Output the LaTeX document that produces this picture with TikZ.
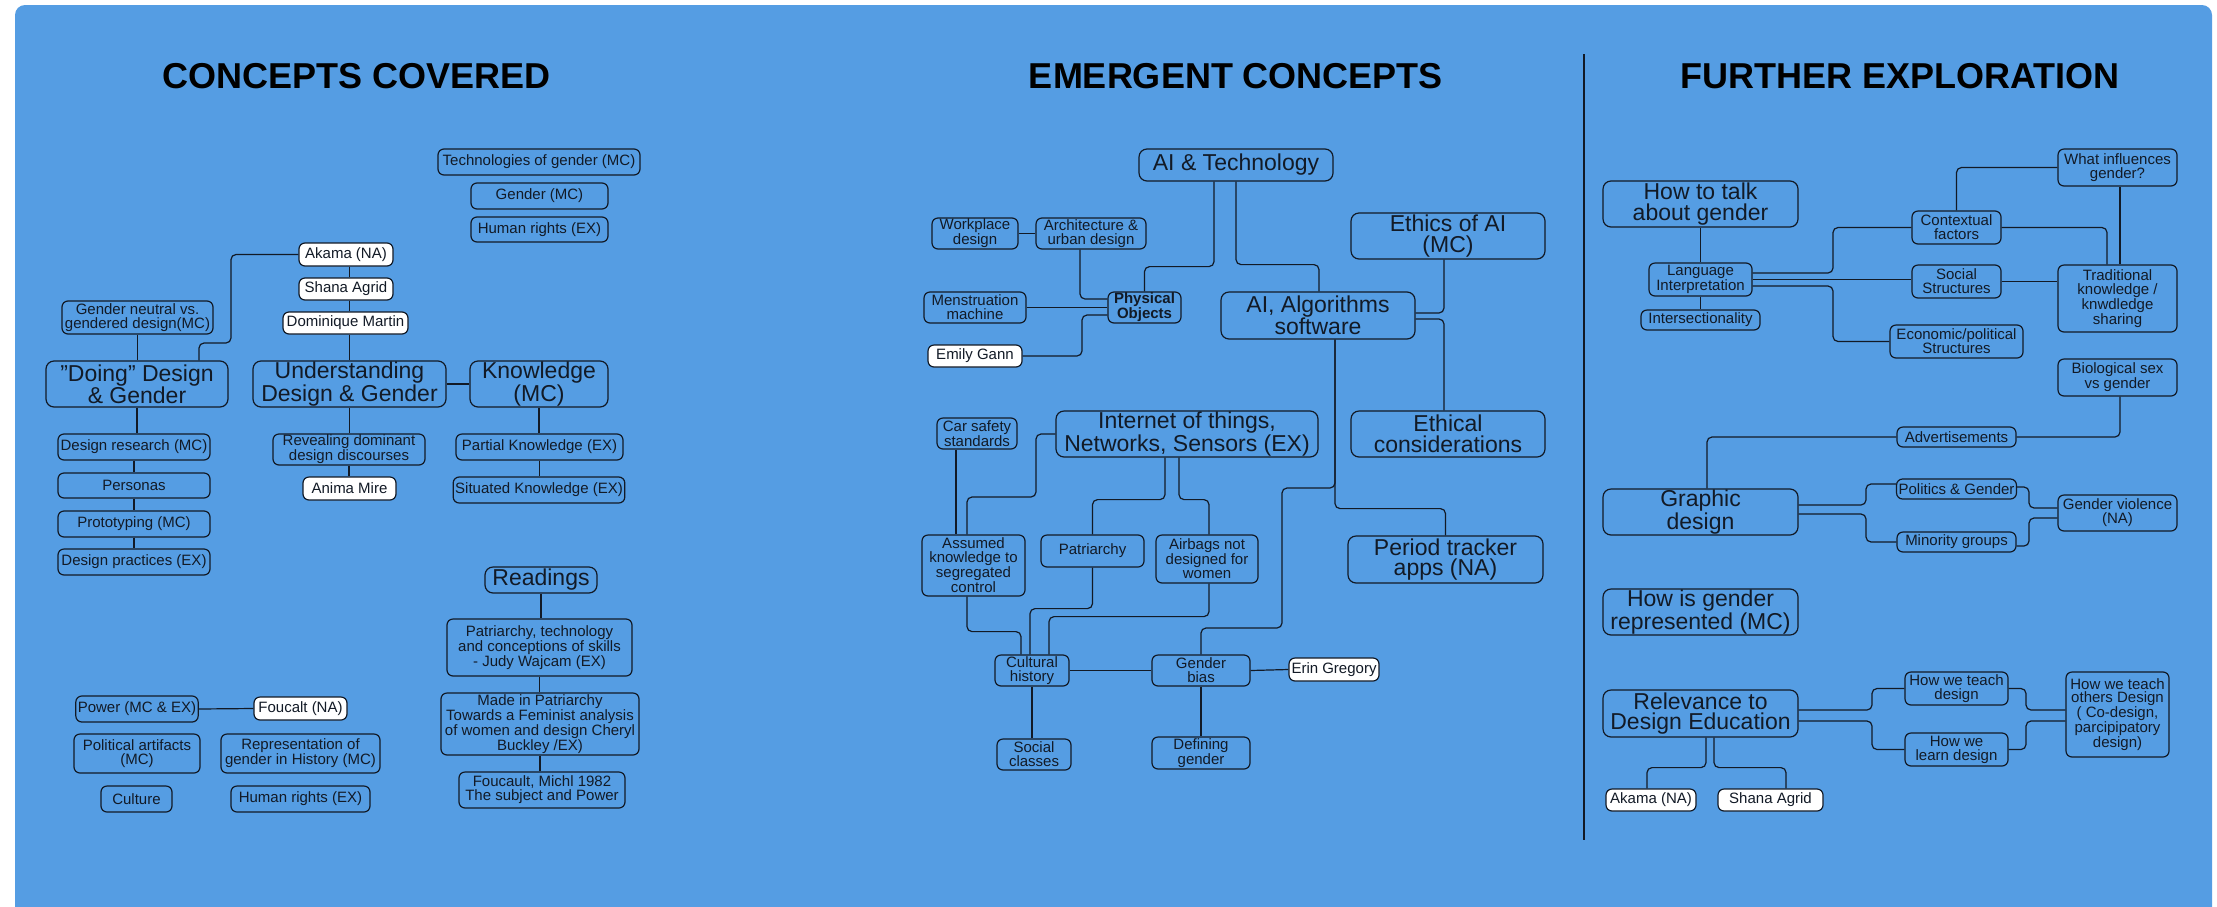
\documentclass[tikz,border=0pt]{standalone}
\usepackage{fontspec}
\setmainfont{Liberation Sans}[Ligatures=ResetAll]
\usepackage{tikz}
\definecolor{panel}{RGB}{85,157,227}
\definecolor{ink}{RGB}{18,26,38}

\begin{document}
\begin{tikzpicture}[x=1pt,y=-1pt,
    box/.style={draw=ink, fill=panel, text=ink, line width=1.2pt, rounded corners=6pt,
        align=center, inner xsep=2pt, inner ysep=0pt, font=\fontsize{15}{13.8}\selectfont},
    bigbox/.style={box, rounded corners=8pt, font=\fontsize{23}{20.5}\selectfont},
    person/.style={box, fill=white},
    sz/.style 2 args={minimum width=#1pt, minimum height=#2pt},
    heading/.style={font=\fontsize{36}{40}\selectfont\bfseries, text=black, anchor=base},
    link/.style={draw=ink, line width=1.2pt, rounded corners=5pt}]
    \useasboundingbox (0,0) rectangle (2217,906);
    \fill[white] (0,0) rectangle (2217,906);
    \fill[panel, rounded corners=10pt] (15,5) rectangle (2212,930);

    % draw headings
    \node[heading] (ttlcovered) at (357,88) {CONCEPTS COVERED};
    \node[heading] (ttlemergent) at (1236,88) {EMERGENT CONCEPTS};
    \node[heading] (ttlfurther) at (1900,88) {FURTHER EXPLORATION};
    \draw[ink, line width=1.2pt] (1584,54) -- (1584,840);

    % concepts covered
    \node[box, sz={202}{26}] (techgender) at (539,162) {Technologies of gender (MC)};
    \node[box, sz={137}{26}] (gendermc) at (539.5,196) {Gender (MC)};
    \node[box, sz={137}{25}] (rightsa) at (539.5,229.5) {Human rights (EX)};
    \node[person, sz={94}{23}] (akamaa) at (346,254.5) {Akama (NA)};
    \node[person, sz={94}{22}] (shanaa) at (346,289) {Shana Agrid};
    \node[person, sz={125}{22}] (dominique) at (345.5,323) {Dominique Martin};
    \node[box, sz={151}{33}] (neutral) at (137.5,317.5) {Gender neutral vs.\\gendered design(MC)};
    \node[bigbox, sz={182}{46}] (doing) at (137,384) {"Doing" Design\\\& Gender};
    \node[bigbox, sz={193}{46}] (understanding) at (349.5,384) {Understanding\\Design \& Gender};
    \node[bigbox, sz={138}{46}] (knowledge) at (539,384) {Knowledge\\(MC)};
    \node[box, sz={152}{26}] (research) at (134,447) {Design research (MC)};
    \node[box, sz={152}{31}] (revealing) at (349,449.5) {Revealing dominant\\design discourses};
    \node[box, sz={167}{26}] (partial) at (539.5,447) {Partial Knowledge (EX)};
    \node[box, sz={152}{25}] (personas) at (134,485.5) {Personas};
    \node[person, sz={93}{23}] (anima) at (349.5,488.5) {Anima Mire};
    \node[box, sz={170}{26}] (situated) at (539,490) {Situated Knowledge (EX)};
    \node[box, sz={152}{26}] (prototyping) at (134,524) {Prototyping (MC)};
    \node[box, sz={152}{26}] (practices) at (134,562) {Design practices (EX)};
    \node[bigbox, sz={112}{26}] (readings) at (541,580) {Readings};
    \node[box, sz={185}{57}] (wajcman) at (539.5,647.5) {Patriarchy, technology\\and conceptions of skills\\- Judy Wajcam (EX)};
    \node[box, sz={198}{62}] (buckley) at (540,724) {Made in Patriarchy\\Towards a Feminist analysis\\of women and design Cheryl\\Buckley /EX)};
    \node[box, sz={166}{36}] (subject) at (542,790) {Foucault, Michl 1982\\The subject and Power};
    \node[box, sz={122}{26}] (power) at (137,709) {Power (MC \& EX)};
    \node[person, sz={93}{23}] (foucalt) at (300.5,708.5) {Foucalt (NA)};
    \node[box, sz={126}{39}] (artifacts) at (137,753.5) {Political artifacts\\(MC)};
    \node[box, sz={159}{39}] (history) at (300.5,753.5) {Representation of\\gender in History (MC)};
    \node[box, sz={71}{26}] (culture) at (136.5,799) {Culture};
    \node[box, sz={139}{26}] (rightsb) at (300.5,799) {Human rights (EX)};

    % emergent concepts
    \node[bigbox, sz={194}{32}] (aitech) at (1236,165) {AI \& Technology};
    \node[box, sz={86}{31}] (workplace) at (975,233.5) {Workplace\\design};
    \node[box, sz={110}{31}] (architecture) at (1091,233.5) {Architecture \&\\urban design};
    \node[bigbox, sz={194}{46}] (ethicsai) at (1448,236) {Ethics of AI\\(MC)};
    \node[box, sz={102}{31}] (menstruation) at (975,307.5) {Menstruation\\machine};
    \node[box, sz={73}{31}, font=\fontsize{15}{13.8}\selectfont\bfseries] (physical) at (1144.5,307.5) {Physical\\Objects};
    \node[bigbox, sz={194}{47}] (algorithms) at (1318,315.5) {AI, Algorithms\\software};
    \node[person, sz={94}{22}] (emily) at (975,356) {Emily Gann};
    \node[box, sz={80}{31}] (carsafety) at (977,433.5) {Car safety\\standards};
    \node[bigbox, sz={262}{46}] (iot) at (1187,434) {Internet of things,\\Networks, Sensors (EX)};
    \node[bigbox, sz={194}{46}] (ethical) at (1448,434) {Ethical\\considerations};
    \node[box, sz={103}{61}] (assumed) at (973.5,565.5) {Assumed\\knowledge to\\segregated\\control};
    \node[box, sz={103}{32}] (patriarchy) at (1092.5,551) {Patriarchy};
    \node[box, sz={102}{48}] (airbags) at (1207,559) {Airbags not\\designed for\\women};
    \node[bigbox, sz={195}{47}] (period) at (1445.5,559.5) {Period tracker\\apps (NA)};
    \node[box, sz={74}{31}] (cultural) at (1032,670.5) {Cultural\\history};
    \node[box, sz={98}{31}] (bias) at (1201,670.5) {Gender\\bias};
    \node[person, sz={90}{23}] (erin) at (1334,669.5) {Erin Gregory};
    \node[box, sz={74}{31}] (classes) at (1034,754.5) {Social\\classes};
    \node[box, sz={98}{32}] (defining) at (1201,753) {Defining\\gender};

    % further exploration
    \node[bigbox, sz={195}{46}] (talk) at (1700.5,204) {How to talk\\about gender};
    \node[box, sz={119}{37}] (influences) at (2117.5,167.5) {What influences\\gender?};
    \node[box, sz={89}{33}] (contextual) at (1956.5,227.5) {Contextual\\factors};
    \node[box, sz={103}{33}] (language) at (1700.5,279.5) {Language\\Interpretation};
    \node[box, sz={89}{33}] (structures) at (1956.5,281.5) {Social\\Structures};
    \node[box, sz={119}{67}] (traditional) at (2117.5,298.5) {Traditional\\knowledge /\\knwdledge\\sharing};
    \node[box, sz={119}{20}] (intersect) at (1700.5,320) {Intersectionality};
    \node[box, sz={133}{33}] (economic) at (1956.5,341.5) {Economic/political\\Structures};
    \node[box, sz={119}{37}] (biological) at (2117.5,377.5) {Biological sex\\vs gender};
    \node[box, sz={119}{20}] (adverts) at (1956.5,437) {Advertisements};
    \node[bigbox, sz={195}{46}] (graphic) at (1700.5,512) {Graphic\\design};
    \node[box, sz={119}{20}] (politics) at (1956.5,489) {Politics \& Gender};
    \node[box, sz={119}{20}] (minority) at (1956.5,542) {Minority groups};
    \node[box, sz={119}{36}] (violence) at (2117.5,513) {Gender violence\\(NA)};
    \node[bigbox, sz={195}{46}] (represented) at (1700.5,612) {How is gender\\represented (MC)};
    \node[box, sz={103}{33}] (teach) at (1956.5,688.5) {How we teach\\design};
    \node[bigbox, sz={195}{47}] (relevance) at (1700.5,713.5) {Relevance to\\Design Education};
    \node[box, sz={103}{85}] (others) at (2117.5,714.5) {How we teach\\others Design\\( Co-design,\\parcipipatory\\design)};
    \node[box, sz={103}{33}] (learn) at (1956.5,749.5) {How we\\learn design};
    \node[person, sz={90}{22}] (akamab) at (1651,800) {Akama (NA)};
    \node[person, sz={105}{22}] (shanab) at (1770.5,800) {Shana Agrid};

    % draw straight vertical links
    \foreach \a/\b in {akamaa/shanaa, shanaa/dominique, dominique/understanding}
        \draw[link] (\a.south -| understanding.north) -- (\b.north -| understanding.north);
    \foreach \a/\b in {understanding/revealing, revealing/anima, neutral/doing, doing/research,
        research/personas, personas/prototyping, prototyping/practices, knowledge/partial,
        partial/situated, readings/wajcman, wajcman/buckley, buckley/subject,
        cultural/classes, bias/defining, talk/language, language/intersect}
        \draw[link] (\a.south) -- (\a.south |- \b.north);

    % draw concepts covered links
    \draw[link] (akamaa.west) -| (231,343) -| ([xshift=62pt]doing.north);
    \draw[link] (understanding.east) -- (knowledge.west);
    \draw[link] (power.east) -- (foucalt.west);

    % draw emergent concepts links
    \draw[link] ([xshift=-22pt]aitech.south) -- ++(0,85) -| (physical.north);
    \draw[link] (aitech.south) -- ++(0,83) -| ([xshift=1pt]algorithms.north);
    \draw[link] (workplace.east) -- (architecture.west);
    \draw[link] ([xshift=-11pt]architecture.south) |- ([yshift=8.5pt]physical.west);
    \draw[link] (menstruation.east) -- (physical.west);
    \draw[link] (emily.east) -| (1082,315) -- ([yshift=-7.5pt]physical.west);
    \draw[link] ([xshift=-4pt]ethicsai.south) |- ([yshift=2.5pt]algorithms.east);
    \draw[link] ([yshift=-3.5pt]algorithms.east) -| ([xshift=-4pt]ethical.north);
    \draw[link] ([xshift=17pt]algorithms.south) |- (1282,488) |- (1201,628) -- (bias.north);
    \draw[link] ([xshift=17pt]algorithms.south) -- ++(0,169) -| (period.north);
    \draw[link] ([xshift=-21pt]carsafety.south) -- ([xshift=-21pt]carsafety.south |- assumed.north);
    \draw[link] (iot.west) -| (1036,497) -| ([xshift=-6.5pt]assumed.north);
    \draw[link] ([xshift=-22pt]iot.south) -- ++(0,42) -| (patriarchy.north);
    \draw[link] ([xshift=-8pt]iot.south) -- ++(0,42) -| ([xshift=2pt]airbags.north);
    \draw[link] ([xshift=-6.5pt]assumed.south) -- ++(0,35) -| ([xshift=-11pt]cultural.north);
    \draw[link] (patriarchy.south) -- ++(0,41) -| ([xshift=-2pt]cultural.north);
    \draw[link] ([xshift=2pt]airbags.south) -- ++(0,33) -| ([xshift=17pt]cultural.north);
    \draw[link] (cultural.east) -- (bias.west);
    \draw[link] (bias.east) -- (erin.west);

    % draw further exploration links
    \draw[link] ([yshift=6.5pt]language.east) -| (1833,227.5) -- (contextual.west);
    \draw[link] (language.east) -- (language.east -| structures.west);
    \draw[link] ([yshift=-6.5pt]language.east) -| (1833,341.5) -- (economic.west);
    \draw[link] (contextual.north) |- (influences.west);
    \draw[link] (contextual.east) -| ([xshift=-10.5pt]traditional.north);
    \draw[link] ([xshift=2.5pt]influences.south) -- ([xshift=2.5pt]traditional.north);
    \draw[link] (structures.east) -- (structures.east -| traditional.west);
    \draw[link] ([xshift=2.5pt]biological.south) |- (adverts.east);
    \draw[link] (adverts.west) -| ([xshift=6.5pt]graphic.north);
    \draw[link] ([yshift=7pt]graphic.east) -| (1866,484) -- ([yshift=5pt]politics.west);
    \draw[link] ([yshift=-2pt]graphic.east) -| (1866,542) -- (minority.west);
    \draw[link] ([yshift=2pt]politics.east) -| (2029,508) -- ([yshift=5pt]violence.west);
    \draw[link] ([yshift=-4pt]minority.east) -| (2029,518) -- ([yshift=-5pt]violence.west);
    \draw[link] ([yshift=3.5pt]relevance.east) -| (1872,688.5) -- (teach.west);
    \draw[link] ([yshift=-7.5pt]relevance.east) -| (1872,749.5) -- (learn.west);
    \draw[link] (teach.east) -| (2026,710) -- ([yshift=4.5pt]others.west);
    \draw[link] (learn.east) -| (2026,721) -- ([yshift=-6.5pt]others.west);
    \draw[link] ([xshift=5.5pt]relevance.south) -- ++(0,30) -| ([xshift=-4pt]akamab.north);
    \draw[link] ([xshift=13.5pt]relevance.south) -- ++(0,30) -| ([xshift=15.5pt]shanab.north);
\end{tikzpicture}
\end{document}
